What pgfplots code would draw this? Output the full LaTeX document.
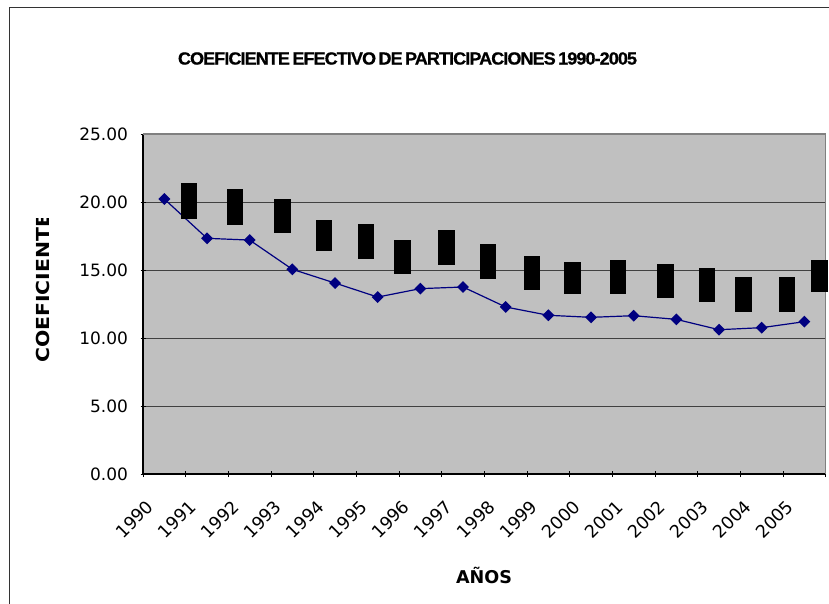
\documentclass[border=0pt]{standalone}
\usepackage{fontspec}
\setmainfont{DejaVu Sans}
\newfontfamily\titlefont[LetterSpace=-5, WordSpace=0.6, FakeBold=0.8]{Liberation Sans}
\usepackage{graphicx}
\usepackage{pgfplots}
\usepackage{pgfplotstable}
\pgfplotsset{compat=1.18}
\definecolor{plotbg}{HTML}{C0C0C0}
\definecolor{navyline}{HTML}{000080}

\pgfplotstableread{
x     hi     lo
0.58  21.40  18.75
1.66  20.96  18.31
2.77  20.22  17.72
3.74  18.68  16.42
4.73  18.38  15.81
5.58  17.21  14.71
6.61  17.94  15.37
7.58  16.91  14.34
8.62  16.03  13.53
9.56  15.59  13.24
10.63 15.74  13.24
11.75 15.44  12.94
12.72 15.15  12.65
13.57 14.49  11.91
14.59 14.49  11.91
15.35 15.74  13.38
}\rects

\begin{document}
\begin{tikzpicture}[x=1pt,y=1pt]
\clip (0,0) rectangle (829,603);
\draw[line width=1.8pt, black!80] (9.5,-10) rectangle (850,595.5);
\node[inner sep=0pt] at (407.5,544.5) {\resizebox{459pt}{12.3pt}{\titlefont\bfseries COEFICIENTE EFECTIVO DE PARTICIPACIONES 1990-2005}};
\node[anchor=base, inner sep=0pt, font=\bfseries\fontsize{17.6}{20}\selectfont] at (484,19.7) {AÑOS};
\begin{scope}
\clip (0,0) rectangle (829,384);
\node[rotate=90, anchor=center, inner sep=0pt] at (42.65,314.8) {\resizebox{149pt}{13.3pt}{\bfseries COEFICIENTE}};
\end{scope}
\begin{axis}[
  at={(143pt,129pt)}, anchor=south west,
  scale only axis, width=682.7pt, height=340pt,
  xmin=-0.5, xmax=15.5, ymin=0, ymax=25,
  clip=false,
  xtick={0,...,15},
  xticklabels={1990,1991,1992,1993,1994,1995,1996,1997,1998,1999,2000,2001,2002,2003,2004,2005},
  minor xtick={-0.5,0.5,...,15.5},
  ytick={0,5,...,25},
  tick align=outside,
  major tick length=5pt, minor tick length=6pt,
  major x tick style={draw=none},
  minor x tick style={draw=black, line width=1pt},
  ytick style={draw=black, line width=1pt},
  ymajorgrids,
  major grid style={black!75, line width=1pt},
  axis background/.style={fill=plotbg},
  axis x line=bottom, axis y line=left,
  axis line style={black, line width=1.2pt, -},
  yticklabel style={font=\fontsize{17}{20}\selectfont, xshift=-9pt},
  y tick label style={/pgf/number format/.cd, fixed, fixed zerofill, precision=2, assume math mode=true},
  xticklabel style={font=\fontsize{17.5}{20}\selectfont, xshift=-14pt, yshift=-27pt, rotate=45, anchor=east, inner sep=0pt},
]
\draw[gray, line width=1.2pt] (rel axis cs:0,1) -- (rel axis cs:1,1) -- (rel axis cs:1,0);
\addplot[navyline, line width=1.2pt, mark=square*, mark size=3.6pt, mark options={rotate=45, fill=navyline, solid}]
  coordinates {(0,20.22)(1,17.33)(2,17.20)(3,15.05)(4,14.04)(5,13.01)(6,13.63)(7,13.75)(8,12.28)(9,11.67)(10,11.52)(11,11.64)(12,11.37)(13,10.61)(14,10.76)(15,11.20)};
\addplot[draw=none, mark=none, forget plot,
  error bars/.cd, y dir=both, y explicit, error mark=none,
  error bar style={draw=black, line width=16.5pt, solid}]
  table[x=x, y expr={(\thisrow{hi}+\thisrow{lo})/2}, y error expr={(\thisrow{hi}-\thisrow{lo})/2}] {\rects};
\end{axis}
\end{tikzpicture}
\end{document}
